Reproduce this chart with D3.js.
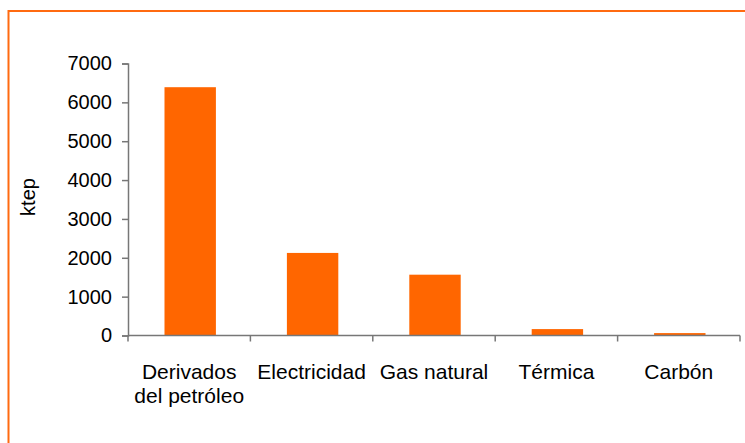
<!DOCTYPE html>
<html>
<head>
<meta charset="utf-8">
<script src="https://cdn.jsdelivr.net/npm/d3@7"></script>
<style>
  body { margin: 0; background: #fff; }
  text { font-family: "Liberation Sans", Arial, sans-serif; fill: #000; }
</style>
</head>
<body>
<div id="chart"></div>
<script>
// data
var categories = ["Derivados\ndel petróleo", "Electricidad", "Gas natural", "Térmica", "Carbón"];
var values = [6390, 2125, 1565, 165, 62];
var yTicks = [0, 1000, 2000, 3000, 4000, 5000, 6000, 7000];

var svgWidth = 745;
var svgHeight = 443;

var margin = { top: 63.5, right: 5, bottom: 107.5, left: 128 };
var width = 740 - margin.left;
var height = 335.5 - margin.top;

var svg = d3.select("#chart")
  .append("svg")
  .attr("width", svgWidth)
  .attr("height", svgHeight);

// orange frame (right and bottom edges fall outside the picture)
svg.append("rect")
  .attr("x", 8.5)
  .attr("y", 11)
  .attr("width", 800)
  .attr("height", 500)
  .attr("fill", "none")
  .attr("stroke", "#ff6a10")
  .attr("stroke-width", 2);

var chartGroup = svg.append("g")
  .attr("transform", `translate(${margin.left}, ${margin.top})`);

var xScale = d3.scaleBand()
  .domain(categories)
  .range([0, width])
  .padding(0);

var yScale = d3.scaleLinear()
  .domain([0, 7000])
  .range([height, 0]);

// bars
var barW = xScale.bandwidth() * 0.42;
chartGroup.selectAll("rect.bar")
  .data(values)
  .enter()
  .append("rect")
  .attr("class", "bar")
  .attr("x", (d, i) => xScale(categories[i]) + xScale.bandwidth() / 2 - barW / 2 + 1)
  .attr("y", d => yScale(d))
  .attr("width", barW)
  .attr("height", d => height - yScale(d))
  .attr("fill", "#ff6600");

// y axis
var leftAxis = d3.axisLeft(yScale)
  .tickValues(yTicks)
  .tickSize(6)
  .tickPadding(10)
  .tickFormat(d3.format("d"));

var yAxis = chartGroup.append("g").call(leftAxis);
yAxis.select(".domain").attr("stroke", "#777").attr("stroke-width", 1.5);
yAxis.selectAll(".tick line").attr("stroke", "#777").attr("stroke-width", 1.5);
yAxis.selectAll(".tick text")
  .attr("font-size", 20)
  .attr("font-family", "Liberation Sans, Arial, sans-serif")
  .attr("fill", "#000");

// x axis: ticks at band boundaries
var xAxis = chartGroup.append("g")
  .attr("transform", `translate(0, ${height})`);

xAxis.append("line")
  .attr("x1", 0)
  .attr("x2", width)
  .attr("stroke", "#777")
  .attr("stroke-width", 1.5);

var bounds = categories.map(c => xScale(c)).concat([width]);
xAxis.selectAll("line.tick")
  .data(bounds)
  .enter()
  .append("line")
  .attr("class", "tick")
  .attr("x1", d => d)
  .attr("x2", d => d)
  .attr("y1", 0)
  .attr("y2", 6)
  .attr("stroke", "#777")
  .attr("stroke-width", 1.5);

var labels = xAxis.selectAll("text.cat")
  .data(categories)
  .enter()
  .append("text")
  .attr("class", "cat")
  .attr("text-anchor", "middle")
  .attr("font-size", 21)
  .attr("y", 43);

labels.each(function(d) {
  var t = d3.select(this);
  var cx = xScale(d) + xScale.bandwidth() / 2;
  d.split("\n").forEach(function(line, i) {
    t.append("tspan")
      .attr("x", cx)
      .attr("dy", i === 0 ? 0 : 24)
      .text(line);
  });
});

// y axis title
svg.append("text")
  .attr("transform", "translate(35, 197) rotate(-90)")
  .attr("text-anchor", "middle")
  .attr("font-size", 20)
  .text("ktep");
</script>
</body>
</html>
